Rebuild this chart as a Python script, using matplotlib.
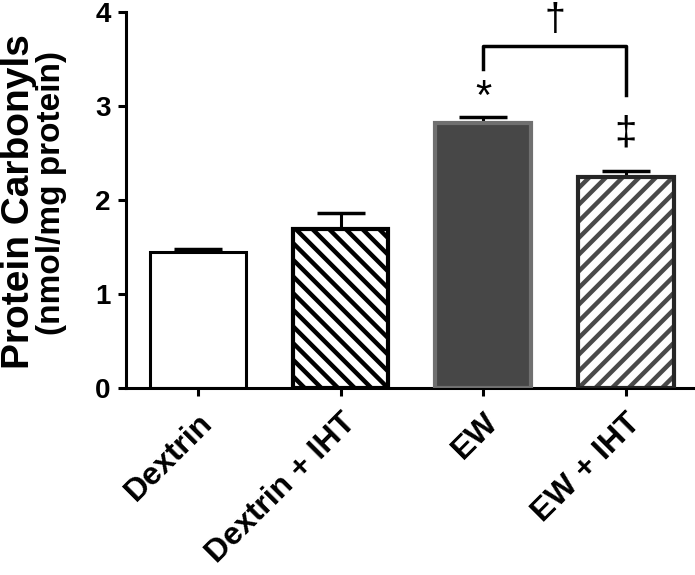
import matplotlib
matplotlib.use('Agg')
import matplotlib.pyplot as plt
from matplotlib.transforms import ScaledTranslation

# group names, means and upper error (SEM)
groups = ['Dextrin', 'Dextrin + IHT', 'EW', 'EW + IHT']
means = [1.45, 1.69, 2.82, 2.25]
errs = [0.03, 0.17, 0.06, 0.06]
# significance marks: (group index, y, symbol)
marks = [(2, 3.09, '*'), (3, 2.71, '\u2021')]
bracket = (2, 3, 3.64, 3.39, 3.12)  # left idx, right idx, top, left foot, right foot
bracket_mark = '\u2020'

plt.rcParams['font.family'] = ['Liberation Sans', 'DejaVu Sans']
plt.rcParams['font.weight'] = 'bold'
plt.rcParams['hatch.linewidth'] = 3.2

fig = plt.figure(figsize=(6.95, 5.75), dpi=100)
ax = fig.add_axes([0.181, 0.325, 0.816, 0.654])

x = list(range(len(groups)))
w = 0.67
fills = ['white', 'white', '#474747', 'white']
hatches = [None, '\\\\', None, '//']
hatch_cols = ['black', 'black', '#474747', '#4a4a4a']
edges = ['black', 'black', '#707070', '#262626']
lws = [2.2, 3.0, 3.0, 3.0]

# hatch layer first (hatch colour follows edgecolor), then the outline
for i in x:
    ax.bar(x[i], means[i], w, color=fills[i], hatch=hatches[i],
           edgecolor=hatch_cols[i], linewidth=0, zorder=2)
    ax.bar(x[i], means[i], w, fill=False, edgecolor=edges[i],
           linewidth=lws[i], zorder=3)

ax.errorbar(x, means, yerr=[[0] * len(errs), errs], fmt='none', ecolor='black',
            elinewidth=2.2, capsize=17, capthick=2.5, zorder=1)

ax.text(marks[0][0], marks[0][1], marks[0][2], ha='center', va='center',
        fontsize=30, fontweight='normal')
ax.text(marks[1][0], marks[1][1], marks[1][2], ha='center', va='center',
        fontsize=29, fontweight='normal')

l, r, top, lf, rf = bracket
ax.plot([l, l, r, r], [lf, top, top, rf], color='black', lw=2.5, clip_on=False)
ax.text((l + r) / 2, 3.92, bracket_mark, ha='center', va='center', fontsize=27,
        fontweight='normal', clip_on=False)

ax.set_xlim(-0.505, 3.47)
ax.set_ylim(0, 4)
ax.set_yticks([0, 1, 2, 3, 4])
ax.set_xticks(x)
ax.set_xticklabels(groups, rotation=45, ha='right', va='top',
                   rotation_mode='anchor', fontsize=23, fontweight='bold')
shift = ScaledTranslation(-7 / 100, 0, fig.dpi_scale_trans)
for lab in ax.get_xticklabels():
    lab.set_transform(lab.get_transform() + shift)
ax.tick_params(axis='y', labelsize=20, width=2.2, length=6, direction='out', pad=5)
ax.tick_params(axis='x', width=2.2, length=6, direction='out', pad=8)
for lab in ax.get_yticklabels():
    lab.set_fontweight('bold')

for s in ['top', 'right']:
    ax.spines[s].set_visible(False)
for s in ['left', 'bottom']:
    ax.spines[s].set_linewidth(2.2)

fig.text(0.027, 0.649, 'Protein Carbonyls', rotation=90, ha='center', va='center',
         fontsize=28, fontweight='bold')
fig.text(0.074, 0.665, '(nmol/mg protein)', rotation=90, ha='center', va='center',
         fontsize=24, fontweight='bold')

fig.savefig('out.png', dpi=100)
